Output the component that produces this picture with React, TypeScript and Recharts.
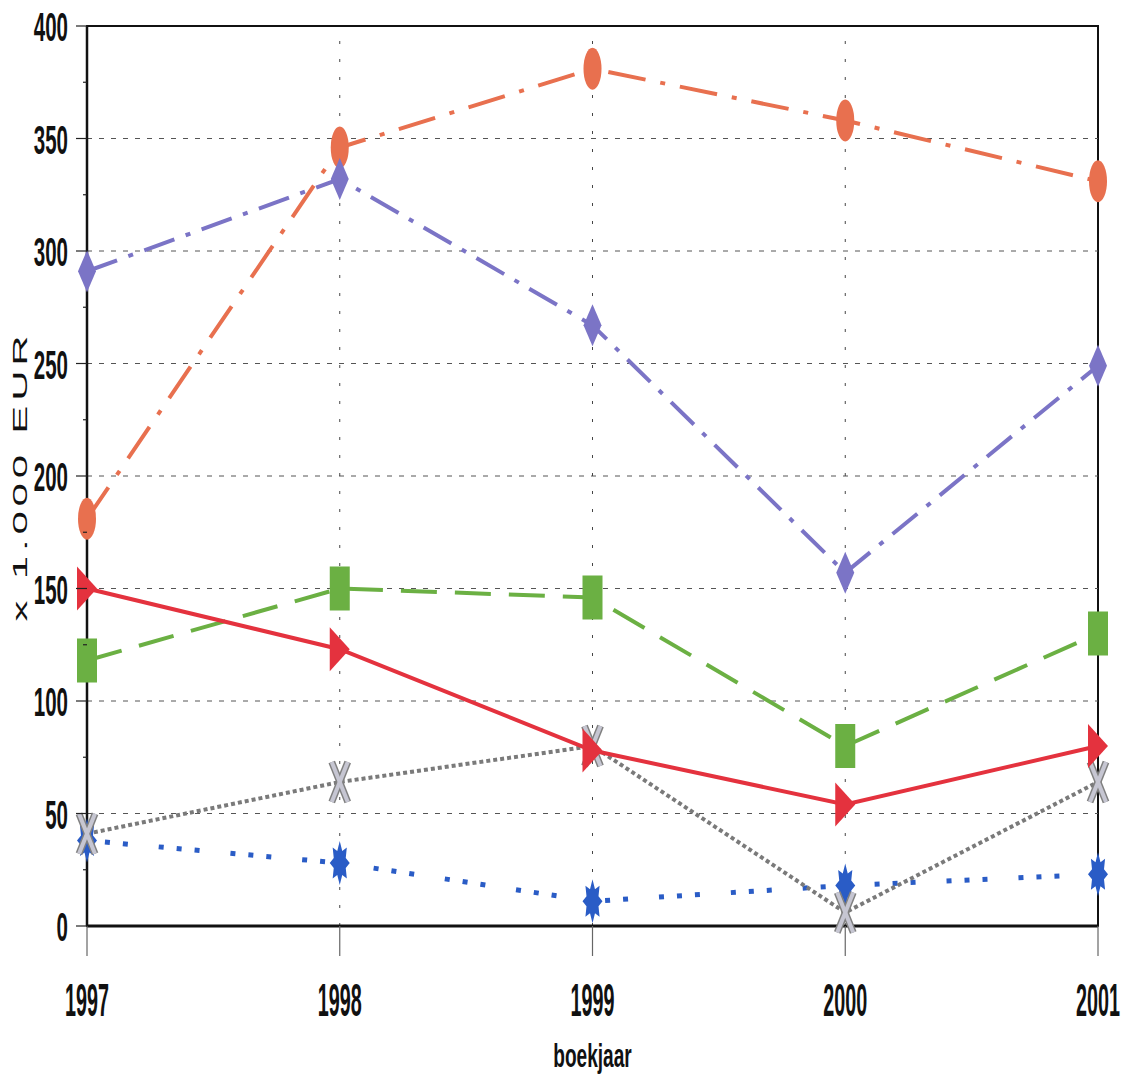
import React from "react";
import {
  LineChart,
  Line,
  XAxis,
  YAxis,
  ReferenceLine,
  ReferenceArea,
} from "recharts";

const years = ["1997", "1998", "1999", "2000", "2001"];
const oranje = [181, 346, 381, 358, 331];
const paars = [291, 332, 267, 157, 249];
const groen = [118, 150, 146, 80, 130];
const rood = [150, 123, 78, 54, 80];
const grijs = [41, 64, 80, 6, 64];
const blauw = [38, 28, 11, 18, 23];

const yTicks = [0, 25, 50, 75, 100, 125, 150, 175, 200, 225, 250, 275, 300, 325, 350, 375, 400];
const yGrid = [50, 100, 150, 200, 250, 300, 350];
const xGrid = ["1998", "1999", "2000"];

const data = years.map((year, i) => ({
  year,
  oranje: oranje[i],
  paars: paars[i],
  groen: groen[i],
  rood: rood[i],
  grijs: grijs[i],
  blauw: blauw[i],
}));

const FONT = "'Liberation Sans', Arial, sans-serif";

const XTick = ({ x, y, payload }: any) => (
  <g>
    <line x1={x} y1={y} x2={x} y2={y + 30} stroke="#666" strokeWidth={1.2} />
    <text
      transform={`translate(${x},${y + 90}) scale(0.43,1)`}
      textAnchor="middle"
      fontSize={46}
      fontWeight="bold"
      fontFamily={FONT}
      fill="#111"
    >
      {payload.value}
    </text>
  </g>
);

const YTick = ({ x, y, payload }: any) => {
  const major = payload.value % 50 === 0;
  return (
    <g>
      <line x1={x - (major ? 11 : 4)} y1={y} x2={x} y2={y} stroke="#222" strokeWidth={1.2} />
      {major && (
        <text
          transform={`translate(${x - 19},${y + 15}) scale(0.5,1)`}
          textAnchor="end"
          fontSize={41}
          fontWeight="bold"
          fontFamily={FONT}
          fill="#111"
        >
          {payload.value}
        </text>
      )}
    </g>
  );
};

const YLabel = ({ viewBox }: any) => {
  const x = viewBox.x + 17;
  const y = viewBox.y + viewBox.height / 2;
  return (
    <text
      transform={`translate(${x},${y}) rotate(-90) scale(2,1)`}
      textAnchor="middle"
      fontSize={21}
      letterSpacing={2.4}
      fontFamily={FONT}
      fill="#111"
    >
      x 1.000 EUR
    </text>
  );
};

const XLabel = ({ viewBox }: any) => (
  <text
    transform={`translate(${viewBox.x + viewBox.width / 2},${viewBox.y + 141}) scale(0.56,1)`}
    textAnchor="middle"
    fontSize={34}
    fontWeight="bold"
    fontFamily={FONT}
    fill="#111"
  >
    boekjaar
  </text>
);

// markers
const Ellipse = ({ cx, cy, index }: any) => (
  <ellipse key={`o${index}`} cx={cx} cy={cy} rx={9} ry={21} fill="#e8704f" />
);

const Diamond = ({ cx, cy, index }: any) => (
  <polygon
    key={`d${index}`}
    points={`${cx},${cy - 21} ${cx + 9},${cy} ${cx},${cy + 21} ${cx - 9},${cy}`}
    fill="#7b74c6"
  />
);

const Square = ({ cx, cy, index }: any) => (
  <rect key={`s${index}`} x={cx - 10} y={cy - 22} width={20} height={44} fill="#6bb043" />
);

const Triangle = ({ cx, cy, index }: any) => (
  <polygon
    key={`t${index}`}
    points={`${cx - 10},${cy - 22} ${cx + 10},${cy} ${cx - 10},${cy + 22}`}
    fill="#e4323e"
  />
);

const Cross = ({ cx, cy, index }: any) => (
  <g key={`x${index}`}>
    <line x1={cx - 8} y1={cy - 20} x2={cx + 8} y2={cy + 20} stroke="#808080" strokeWidth={7} />
    <line x1={cx + 8} y1={cy - 20} x2={cx - 8} y2={cy + 20} stroke="#808080" strokeWidth={7} />
    <line x1={cx - 8} y1={cy - 20} x2={cx + 8} y2={cy + 20} stroke="#c6c6d2" strokeWidth={4} />
    <line x1={cx + 8} y1={cy - 20} x2={cx - 8} y2={cy + 20} stroke="#c6c6d2" strokeWidth={4} />
  </g>
);

const Star = ({ cx, cy, index }: any) => {
  const pts: string[] = [];
  for (let k = 0; k < 16; k++) {
    const a = (Math.PI * k) / 8 - Math.PI / 2;
    const outer = k % 2 === 0;
    const rx = outer ? 10 : 6.5;
    const ry = outer ? 22 : 13;
    pts.push(`${cx + rx * Math.cos(a)},${cy + ry * Math.sin(a)}`);
  }
  return <polygon key={`b${index}`} points={pts.join(" ")} fill="#2a5cc6" />;
};

export default function App() {
  return (
    <div style={{ position: "absolute", left: 0, top: 0, background: "#fff" }}>
      <LineChart
        width={1127}
        height={1087}
        data={data}
        margin={{ top: 26, right: 29, left: 10, bottom: 0 }}
      >
        {yGrid.map((v) => (
          <ReferenceLine key={`h${v}`} y={v} stroke="#555" strokeWidth={1} strokeDasharray="5 7" />
        ))}
        {xGrid.map((v) => (
          <ReferenceLine key={`v${v}`} x={v} stroke="#444" strokeWidth={1} strokeDasharray="3 15" />
        ))}
        <ReferenceArea
          x1="1997"
          x2="2001"
          y1={0}
          y2={400}
          fill="none"
          fillOpacity={0}
          stroke="#111"
          strokeWidth={2}
        />
        <XAxis
          dataKey="year"
          height={161}
          tickSize={0}
          tickMargin={0}
          tick={<XTick />}
          interval={0}
          axisLine={{ stroke: "#111", strokeWidth: 3 }}
          label={<XLabel />}
        />
        <YAxis
          width={77}
          domain={[0, 400]}
          ticks={yTicks}
          interval={0}
          tickSize={0}
          tickMargin={0}
          tick={<YTick />}
          axisLine={{ stroke: "#111", strokeWidth: 2.5 }}
          label={<YLabel />}
        />
        <Line
          dataKey="oranje"
          stroke="#e8704f"
          strokeWidth={4}
          strokeDasharray="38 15 5 15"
          dot={<Ellipse />}
          isAnimationActive={false}
        />
        <Line
          dataKey="paars"
          stroke="#7b74c6"
          strokeWidth={4}
          strokeDasharray="32 12 5 12"
          dot={<Diamond />}
          isAnimationActive={false}
        />
        <Line
          dataKey="groen"
          stroke="#6bb043"
          strokeWidth={4}
          strokeDasharray="36 18"
          dot={<Square />}
          isAnimationActive={false}
        />
        <Line
          dataKey="blauw"
          stroke="#2a5cc6"
          strokeWidth={5}
          strokeDasharray="5 13 5 13 5 31"
          dot={<Star />}
          isAnimationActive={false}
        />
        <Line
          dataKey="grijs"
          stroke="#7a7a7a"
          strokeWidth={4}
          strokeDasharray="4 3"
          dot={<Cross />}
          isAnimationActive={false}
        />
        <Line
          dataKey="rood"
          stroke="#e4323e"
          strokeWidth={4}
          dot={<Triangle />}
          isAnimationActive={false}
        />
      </LineChart>
    </div>
  );
}
